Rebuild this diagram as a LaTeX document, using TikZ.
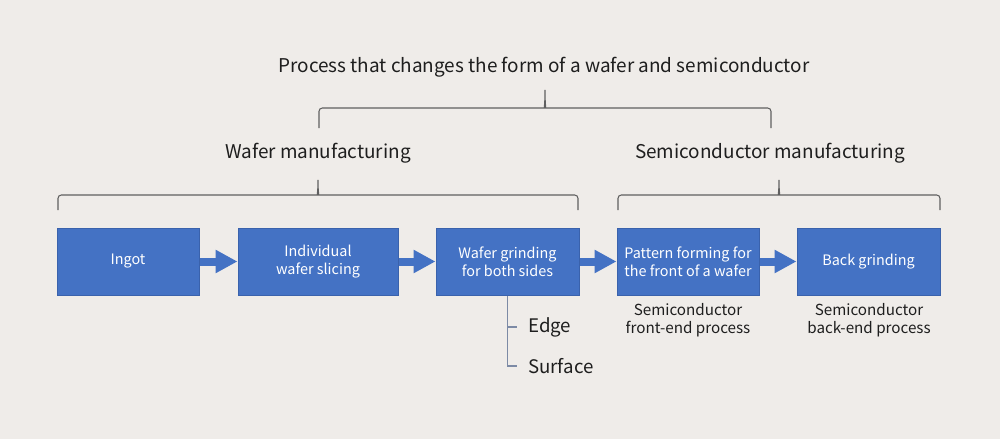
\documentclass[tikz,border=0pt]{standalone}
\usepackage{fontspec}
\setmainfont{Noto Sans CJK KR}
\usetikzlibrary{arrows.meta}
\definecolor{bg}{HTML}{EFECE9}
\definecolor{boxblue}{HTML}{4472C4}
\definecolor{boxedge}{HTML}{3A62AC}
\definecolor{txt}{HTML}{1E1E1E}
\definecolor{bracec}{HTML}{606060}
\definecolor{stemc}{HTML}{7C8AA5}
\begin{document}
\begin{tikzpicture}[x=0.75pt,y=-0.75pt,
  stepbox/.style={draw=boxedge, line width=0.75pt, fill=boxblue, text=white, align=center,
    font=\fontsize{10.8}{13.5}\selectfont, inner sep=0, minimum height=50.25pt},
  flow/.style={draw=boxblue, line width=6pt, -{Triangle[length=16.5pt,width=16.5pt]}},
  heading/.style={text=txt, font=\fontsize{14.2}{17}\selectfont, inner sep=0},
  sublabel/.style={text=txt, align=center, font=\fontsize{11.4}{13.5}\selectfont, inner sep=0},
  bracepath/.style={draw=bracec, line width=0.8pt, rounded corners=2.5pt},
  stemline/.style={draw=stemc, line width=0.9pt},
  branch/.style={text=txt, font=\fontsize{14}{16}\selectfont, inner sep=0, anchor=west}]
\useasboundingbox[fill=bg] (0,0) rectangle (1000,439);

% boxes
\node[stepbox, minimum width=106.5pt] (ingot) at (128,261.5) {Ingot};
\node[stepbox, minimum width=120pt] (slice) at (318,261.5) {Individual\\wafer slicing};
\node[stepbox, minimum width=107.25pt] (grind) at (507.5,261.5) {Wafer grinding\\for both sides};
\node[stepbox, minimum width=106.5pt] (pattern) at (688,261.5) {Pattern forming for\\the front of a wafer};
\node[stepbox, minimum width=107.25pt] (back) at (868.5,261.5) {Back grinding};

% arrows
\draw[flow] (ingot.east) -- (slice.west);
\draw[flow] (slice.east) -- (grind.west);
\draw[flow] (grind.east) -- (pattern.west);
\draw[flow] (pattern.east) -- (back.west);

% sub labels
\node[sublabel] (fe) at (688,320) {Semiconductor\\front-end process};
\node[sublabel] (be) at (869,320) {Semiconductor\\back-end process};

% edge / surface
\node[branch] (edge) at (528,327) {Edge};
\node[branch] (surface) at (528,366) {Surface};
\draw[stemline] (grind.south) |- ([xshift=-8.25pt]surface.west);
\draw[stemline] (grind.south |- edge.west) -- ([xshift=-8.25pt]edge.west);

% headings
\node[heading] (title) at (544,67) {Process that changes the form of a wafer and semiconductor};
\node[heading] (wafer) at (318,153) {Wafer manufacturing};
\node[heading] (semi) at (770,153) {Semiconductor manufacturing};

% braces
\draw[bracepath] (319,128) -- (319,108) -- (541,108)
  .. controls (544,108) and (545,104) .. (545,88)
  .. controls (545,104) and (546,108) .. (549,108) -- (771,108) -- (771,128);
\draw[bracepath] (58,210) -- (58,195) -- (314,195)
  .. controls (317,195) and (318,191) .. (318,178)
  .. controls (318,191) and (319,195) .. (322,195) -- (578,195) -- (578,210);
\draw[bracepath] (618,210) -- (618,195) -- (775,195)
  .. controls (778,195) and (779,191) .. (779,178)
  .. controls (779,191) and (780,195) .. (783,195) -- (940,195) -- (940,210);
\end{tikzpicture}
\end{document}
